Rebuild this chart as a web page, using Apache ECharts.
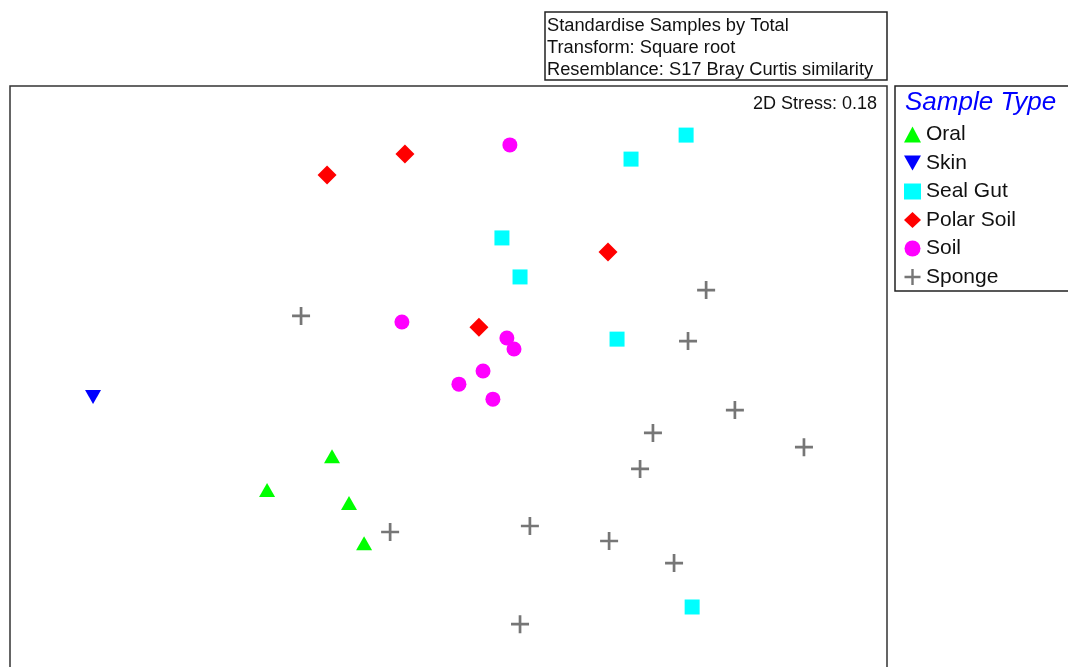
<!DOCTYPE html>
<html>
<head>
<meta charset="utf-8">
<title>nMDS – Sample Type</title>
<script src="https://cdn.jsdelivr.net/npm/echarts@6/dist/echarts.min.js"></script>
<style>
  html, body { margin: 0; padding: 0; background: #fff; }
  #chart { width: 1068px; height: 667px; }
</style>
</head>
<body>
<div id="chart"></div>
<script>
// nMDS ordination coordinates (MDS1, MDS2) per sample type
const groups = ['Oral', 'Skin', 'Seal Gut', 'Polar Soil', 'Soil', 'Sponge'];
const oral = [[-0.425, -0.257], [-0.662, -0.381], [-0.363, -0.429], [-0.308, -0.576]];
const skin = [[-1.297, -0.040]];
const sealGut = [[0.867, 0.920], [0.666, 0.832], [0.195, 0.543], [0.261, 0.400], [0.615, 0.172], [0.889, -0.810]];
const polarSoil = [[-0.443, 0.774], [-0.159, 0.851], [0.582, 0.491], [0.111, 0.216]];
const soil = [[0.224, 0.884], [-0.170, 0.235], [0.213, 0.176], [0.239, 0.136], [0.126, 0.055], [0.038, 0.007], [0.162, -0.048]];
const sponge = [[-0.538, 0.257], [0.940, 0.352], [0.874, 0.165], [1.045, -0.088], [0.746, -0.172], [1.297, -0.224],
                [0.699, -0.304], [-0.213, -0.535], [0.297, -0.513], [0.586, -0.568], [0.823, -0.649], [0.261, -0.873]];

const infoLines = ['Standardise Samples by Total', 'Transform: Square root', 'Resemblance: S17 Bray Curtis similarity'];
const stressLabel = '2D Stress: 0.18';
const legendTitle = 'Sample Type';

const FONT = '"Liberation Sans", Arial, sans-serif';
const plusPath = 'path://M8.5,0H11.5V8.5H20V11.5H11.5V20H8.5V11.5H0V8.5H8.5Z';
const downTriangle = 'path://M0,0H16L8,14Z';

const seriesStyle = {
  'Oral':       { data: oral,      symbol: 'triangle',   size: [16, 14], color: '#00ff00' },
  'Skin':       { data: skin,      symbol: downTriangle, size: [16, 14], color: '#0000ff' },
  'Seal Gut':   { data: sealGut,   symbol: 'rect',       size: 15,       color: '#00ffff' },
  'Polar Soil': { data: polarSoil, symbol: 'diamond',    size: 19,       color: '#ff0000' },
  'Soil':       { data: soil,      symbol: 'circle',     size: 15,       color: '#ff00ff' },
  'Sponge':     { data: sponge,    symbol: plusPath,     size: 18,       color: '#767676' }
};

const chart = echarts.init(document.getElementById('chart'), null, { renderer: 'canvas' });

const graphics = [
  // plot frame (its lower edge runs past the bottom of the page)
  { type: 'rect', shape: { x: 10, y: 86, width: 877, height: 640 },
    style: { fill: null, stroke: '#333', lineWidth: 1.5 }, z: 5 },
  // method description box
  { type: 'rect', shape: { x: 545, y: 12, width: 342, height: 68 },
    style: { fill: '#fff', stroke: '#222', lineWidth: 1.5 }, z: 10 },
  // legend box
  { type: 'rect', shape: { x: 895, y: 86, width: 200, height: 205 },
    style: { fill: '#fff', stroke: '#222', lineWidth: 1.5 }, z: 10 },
  { type: 'text', left: 905, top: 90, z: 11,
    style: { text: legendTitle, fill: '#0000ff', font: 'italic 26px ' + FONT } },
  { type: 'text', left: 753, top: 95, z: 11,
    style: { text: stressLabel, fill: '#111', font: '18px ' + FONT } }
];
infoLines.forEach(function (line, i) {
  graphics.push({ type: 'text', left: 547, top: 16.5 + i * 22.3, z: 11,
    style: { text: line, fill: '#111', font: '18.3px ' + FONT } });
});

chart.setOption({
  animation: false,
  backgroundColor: '#fff',
  grid: { left: 10, top: 86, width: 877, bottom: 0, show: false },
  xAxis: { type: 'value', min: -1.6, max: 1.6, show: false },
  yAxis: { type: 'value', min: -1.03, max: 1.1, show: false },
  legend: {
    orient: 'vertical', left: 899, top: 119, itemWidth: 17, itemHeight: 16, itemGap: 7.5,
    textStyle: { fontFamily: FONT, fontSize: 21, color: '#111', lineHeight: 21 },
    data: groups, z: 12
  },
  graphic: graphics,
  series: groups.map(function (name) {
    const s = seriesStyle[name];
    return {
      name: name, type: 'scatter', data: s.data,
      symbol: s.symbol, symbolSize: s.size,
      itemStyle: { color: s.color, opacity: 1 },
      emphasis: { disabled: true }
    };
  })
});
</script>
</body>
</html>
